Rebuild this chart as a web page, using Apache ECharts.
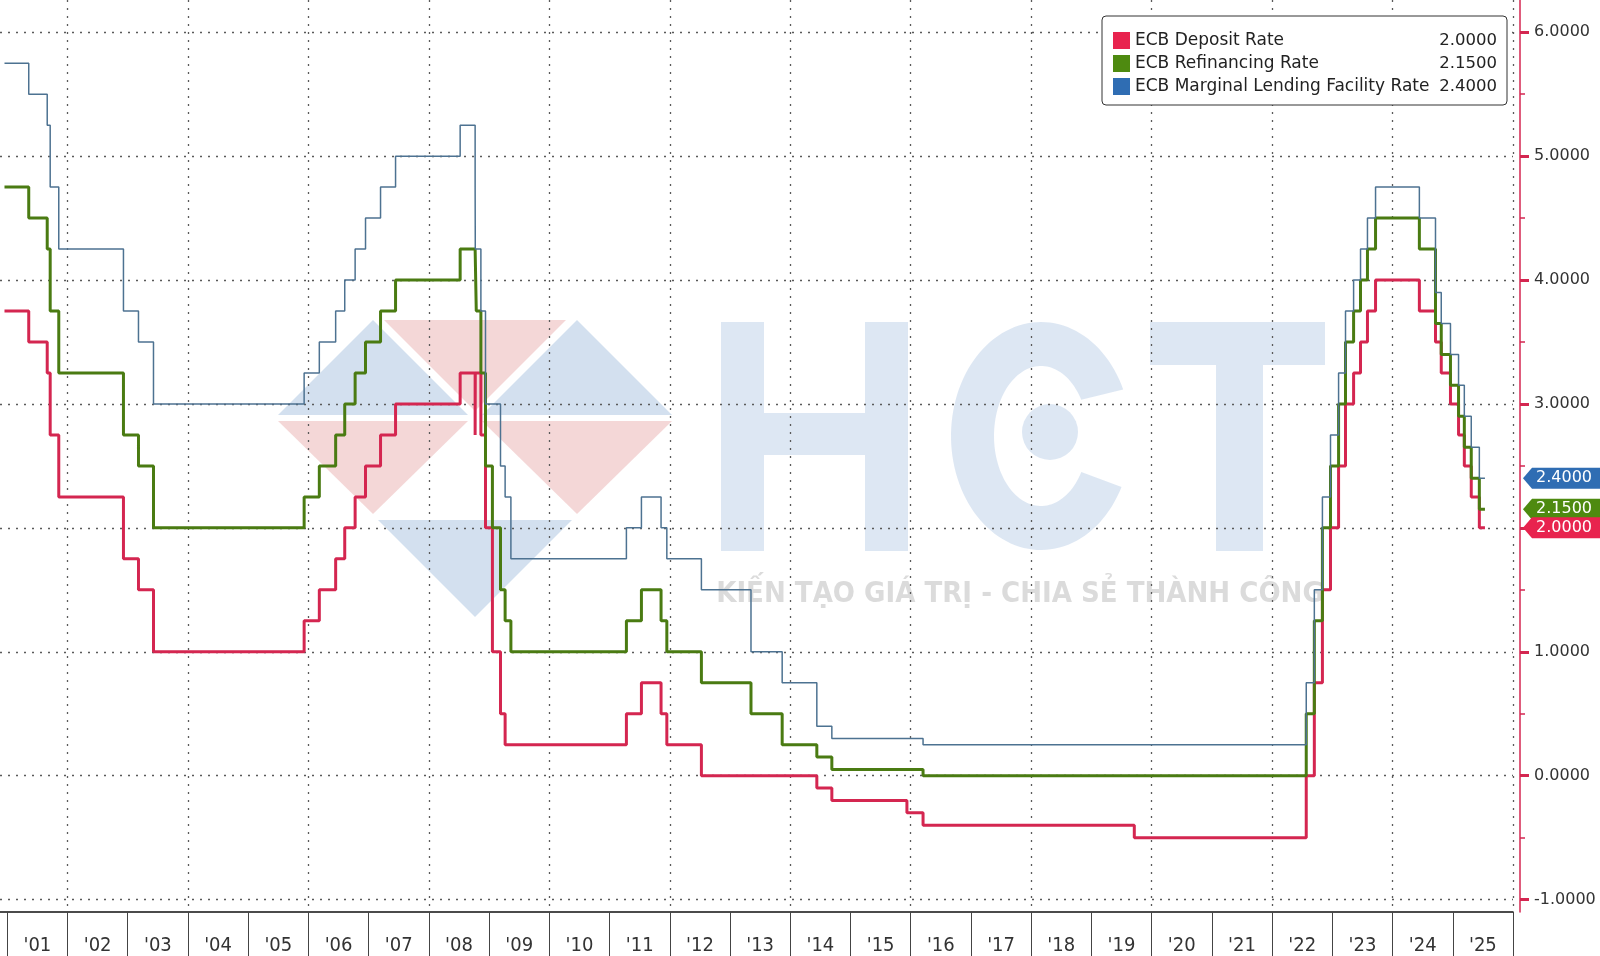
<!DOCTYPE html>
<html>
<head>
<meta charset="utf-8">
<title>ECB policy rates</title>
<script src="https://cdn.jsdelivr.net/npm/echarts@6/dist/echarts.min.js"></script>
<style>
    html, body { margin: 0; padding: 0; background: #fff; }
    #chart { width: 1600px; height: 956px; }
</style>
</head>
<body>
<div id="chart"></div>
<script>
// dates on which the rates changed; each value holds until the next date
const changeDates = [
    '2000-12-15', '2001-05-11', '2001-08-31', '2001-09-18', '2001-11-09', '2002-12-06',
    '2003-03-07', '2003-06-06', '2005-12-06', '2006-03-08', '2006-06-15', '2006-08-09',
    '2006-10-11', '2006-12-13', '2007-03-14', '2007-06-13', '2008-07-09', '2008-10-08',
    '2008-10-09', '2008-10-15', '2008-11-12', '2008-12-10', '2009-01-21', '2009-03-11',
    '2009-04-08', '2009-05-13', '2011-04-13', '2011-07-13', '2011-11-09', '2011-12-14',
    '2012-07-11', '2013-05-08', '2013-11-13', '2014-06-11', '2014-09-10', '2015-12-09',
    '2016-03-16', '2019-09-18', '2022-07-27', '2022-09-14', '2022-11-02', '2022-12-21',
    '2023-02-08', '2023-03-22', '2023-05-10', '2023-06-21', '2023-08-02', '2023-09-20',
    '2024-06-12', '2024-09-18', '2024-10-23', '2024-12-18', '2025-02-05', '2025-03-12',
    '2025-04-23', '2025-06-11', '2025-07-15'
];
const depositRate = [
    3.75, 3.50, 3.25, 2.75, 2.25, 1.75,
    1.50, 1.00, 1.25, 1.50, 1.75, 2.00,
    2.25, 2.50, 2.75, 3.00, 3.25, 2.75,
    3.25, 3.25, 2.75, 2.00, 1.00, 0.50,
    0.25, 0.25, 0.50, 0.75, 0.50, 0.25,
    0.00, 0.00, 0.00, -0.10, -0.20, -0.30,
    -0.40, -0.50, 0.00, 0.75, 1.50, 2.00,
    2.50, 3.00, 3.25, 3.50, 3.75, 4.00,
    3.75, 3.50, 3.25, 3.00, 2.75, 2.50,
    2.25, 2.00, 2.00
];
const refiRate = [
    4.75, 4.50, 4.25, 3.75, 3.25, 2.75,
    2.50, 2.00, 2.25, 2.50, 2.75, 3.00,
    3.25, 3.50, 3.75, 4.00, 4.25, 4.25,
    4.25, 3.75, 3.25, 2.50, 2.00, 1.50,
    1.25, 1.00, 1.25, 1.50, 1.25, 1.00,
    0.75, 0.50, 0.25, 0.15, 0.05, 0.05,
    0.00, 0.00, 0.50, 1.25, 2.00, 2.50,
    3.00, 3.50, 3.75, 4.00, 4.25, 4.50,
    4.25, 3.65, 3.40, 3.15, 2.90, 2.65,
    2.40, 2.15, 2.15
];
const lendingRate = [
    5.75, 5.50, 5.25, 4.75, 4.25, 3.75,
    3.50, 3.00, 3.25, 3.50, 3.75, 4.00,
    4.25, 4.50, 4.75, 5.00, 5.25, 4.75,
    4.25, 4.25, 3.75, 3.00, 3.00, 2.50,
    2.25, 1.75, 2.00, 2.25, 2.00, 1.75,
    1.50, 1.00, 0.75, 0.40, 0.30, 0.30,
    0.25, 0.25, 0.75, 1.50, 2.25, 2.75,
    3.25, 3.75, 4.00, 4.25, 4.50, 4.75,
    4.50, 3.90, 3.65, 3.40, 3.15, 2.90,
    2.65, 2.40, 2.40
];

const seriesNames = ['ECB Deposit Rate', 'ECB Refinancing Rate', 'ECB Marginal Lending Facility Rate'];
const yearBounds = [2001, 2002, 2003, 2004, 2005, 2006, 2007, 2008, 2009, 2010, 2011, 2012, 2013,
    2014, 2015, 2016, 2017, 2018, 2019, 2020, 2021, 2022, 2023, 2024, 2025, 2026];
const gridYears = [2002, 2004, 2006, 2008, 2010, 2012, 2014, 2016, 2018, 2020, 2022, 2024, 2026];
const yearLabels = ["'01", "'02", "'03", "'04", "'05", "'06", "'07", "'08", "'09", "'10", "'11", "'12", "'13",
    "'14", "'15", "'16", "'17", "'18", "'19", "'20", "'21", "'22", "'23", "'24", "'25"];
const rateTicks = [-1, 0, 1, 2, 3, 4, 5, 6];
const rateMinorTicks = [-0.5, 0.5, 1.5, 2.5, 3.5, 4.5, 5.5];

const X_MIN = 2000.879;
const X_MAX = 2026;

// date string -> decimal year
function toYear(s) {
    const d = new Date(s + 'T00:00:00Z');
    const y = d.getUTCFullYear();
    const a = Date.UTC(y, 0, 1);
    const b = Date.UTC(y + 1, 0, 1);
    return y + (d.getTime() - a) / (b - a);
}
function pairs(values) {
    return changeDates.map((d, i) => [toYear(d), values[i]]);
}
const lastOf = (arr) => arr[arr.length - 1];

const lineColors = ['#d42650', '#4a7b12', '#4d7291'];
const tagColors = ['#e8234e', '#4e8a10', '#2f6db3'];
const allRates = [depositRate, refiRate, lendingRate];

const dotted = { color: '#5a5a5a', width: 1.3, type: [2, 6] };

// watermark (HCT logo)
function cPoints(cx, cy) {
    const pts = [];
    const open = 0.42;
    for (let a = open; a <= Math.PI * 2 - open + 1e-6; a += 0.05) {
        pts.push([cx + 90 * Math.cos(a), cy - 114 * Math.sin(a)]);
    }
    for (let a = Math.PI * 2 - open - 0.12; a >= open + 0.12 - 1e-6; a -= 0.05) {
        pts.push([cx + 47 * Math.cos(a), cy - 70 * Math.sin(a)]);
    }
    return pts;
}
const wmBlue = 'rgba(150,182,216,0.42)';
const wmRed = 'rgba(226,150,150,0.38)';
const wmLetter = 'rgba(165,193,224,0.38)';
const watermark = [
    { type: 'polygon', shape: { points: [[373, 320], [278, 415], [468, 415]] }, style: { fill: wmBlue } },
    { type: 'polygon', shape: { points: [[384, 320], [566, 320], [475, 411]] }, style: { fill: wmRed } },
    { type: 'polygon', shape: { points: [[577, 320], [482, 415], [672, 415]] }, style: { fill: wmBlue } },
    { type: 'polygon', shape: { points: [[278, 421], [468, 421], [373, 514]] }, style: { fill: wmRed } },
    { type: 'polygon', shape: { points: [[482, 421], [672, 421], [577, 514]] }, style: { fill: wmRed } },
    { type: 'polygon', shape: { points: [[378, 520], [572, 520], [475, 617]] }, style: { fill: wmBlue } },
    { type: 'rect', shape: { x: 721, y: 322, width: 43, height: 229 }, style: { fill: wmLetter } },
    { type: 'rect', shape: { x: 865, y: 322, width: 43, height: 229 }, style: { fill: wmLetter } },
    { type: 'rect', shape: { x: 764, y: 413, width: 101, height: 42 }, style: { fill: wmLetter } },
    { type: 'polygon', shape: { points: cPoints(1041, 436) }, style: { fill: wmLetter } },
    { type: 'circle', shape: { cx: 1050, cy: 432, r: 28 }, style: { fill: wmLetter } },
    { type: 'rect', shape: { x: 1150, y: 322, width: 175, height: 43 }, style: { fill: wmLetter } },
    { type: 'rect', shape: { x: 1216, y: 365, width: 47, height: 186 }, style: { fill: wmLetter } },
    {
        type: 'text', x: 1020, y: 594,
        style: {
            text: 'KIẾN TẠO GIÁ TRỊ - CHIA SẺ THÀNH CÔNG',
            fill: 'rgba(175,175,175,0.45)',
            font: 'bold 29px "Liberation Sans Narrow", "DejaVu Sans Condensed", sans-serif',
            align: 'center', verticalAlign: 'middle'
        }
    }
].map(el => Object.assign(el, { z: -10, silent: true }));

const chart = echarts.init(document.getElementById('chart'));
chart.setOption({
    animation: false,
    backgroundColor: '#fff',
    graphic: { elements: watermark },
    grid: { left: 0, right: 87, top: 0, bottom: 44, containLabel: false, outerBoundsMode: 'none' },
    legend: {
        orient: 'vertical',
        right: 93,
        top: 16,
        padding: [16, 10, 10, 11],
        itemGap: 6,
        itemWidth: 17,
        itemHeight: 17,
        icon: 'rect',
        backgroundColor: '#fff',
        borderColor: '#333',
        borderWidth: 1,
        borderRadius: 4,
        data: seriesNames.map((n, i) => ({ name: n, itemStyle: { color: tagColors[i] } })),
        formatter: (name) => {
            const i = seriesNames.indexOf(name);
            return '{n|' + name + '}{v|' + lastOf(allRates[i]).toFixed(4) + '}';
        },
        textStyle: {
            color: '#222',
            fontFamily: 'DejaVu Sans',
            fontSize: 17,
            rich: {
                n: { width: 305, fontSize: 17, fontFamily: 'DejaVu Sans', color: '#222', lineHeight: 20 },
                v: { width: 57, align: 'right', fontSize: 16.5, fontFamily: 'DejaVu Sans', color: '#222', lineHeight: 20 }
            }
        }
    },
    xAxis: [
        {
            type: 'value',
            min: X_MIN,
            max: X_MAX,
            position: 'bottom',
            axisLine: { show: true, onZero: false, lineStyle: { color: '#111', width: 1.5 } },
            axisTick: {
                show: true,
                customValues: yearBounds,
                length: 46,
                lineStyle: { color: '#444', width: 1 }
            },
            axisLabel: {
                customValues: yearBounds.slice(0, -1).map(y => y + 0.5),
                formatter: (v) => yearLabels[Math.floor(v) - 2001],
                margin: 24,
                color: '#333',
                fontSize: 20,
                fontFamily: '"Liberation Sans Narrow", "DejaVu Sans Condensed", sans-serif'
            },
            splitLine: { show: false }
        },
        {
            type: 'value',
            min: X_MIN,
            max: X_MAX,
            position: 'top',
            axisLine: { show: false, onZero: false },
            axisTick: { show: false, customValues: gridYears },
            axisLabel: { show: false, customValues: gridYears },
            splitLine: { show: true, lineStyle: dotted }
        }
    ],
    yAxis: [
        {
            type: 'value',
            position: 'right',
            offset: 7,
            min: -1.1,
            max: 6.26,
            axisLine: { show: true, onZero: false, lineStyle: { color: '#d42650', width: 1.5 } },
            axisTick: {
                show: true,
                inside: false,
                customValues: rateTicks,
                length: 9,
                lineStyle: { color: '#d42650', width: 3 }
            },
            axisLabel: {
                customValues: rateTicks,
                formatter: (v) => v.toFixed(4),
                margin: 14,
                color: '#333',
                fontSize: 16,
                fontFamily: 'DejaVu Sans'
            },
            splitLine: { show: true, lineStyle: dotted }
        },
        {
            type: 'value',
            position: 'right',
            offset: 7,
            min: -1.1,
            max: 6.26,
            axisLine: { show: false, onZero: false },
            axisTick: {
                show: true,
                customValues: rateMinorTicks,
                length: 5,
                lineStyle: { color: '#d42650', width: 1.5 }
            },
            axisLabel: { show: false, customValues: rateMinorTicks },
            splitLine: { show: false }
        }
    ],
    series: seriesNames.map((name, i) => ({
        name: name,
        type: 'line',
        step: 'end',
        showSymbol: false,
        symbol: 'none',
        xAxisIndex: 0,
        yAxisIndex: 0,
        z: i === 2 ? 4 : 3,
        color: lineColors[i],
        lineStyle: { color: lineColors[i], width: i === 2 ? 1.5 : 3 },
        data: pairs(allRates[i]),
        markPoint: {
            z: i === 0 ? 9 : 7 + (2 - i) * 0.5,
            symbol: 'path://M0,10.5L9,0L80,0L80,21L9,21Z',
            symbolSize: [80, 21],
            symbolKeepAspect: false,
            symbolOffset: [50, 0],
            itemStyle: { color: tagColors[i] },
            label: {
                show: true,
                position: 'inside',
                offset: [1, 0],
                color: '#fff',
                fontSize: 16,
                fontFamily: 'DejaVu Sans',
                formatter: (p) => p.value.toFixed(4)
            },
            data: [{ coord: [X_MAX, lastOf(allRates[i])], value: lastOf(allRates[i]) }]
        }
    }))
});
</script>
</body>
</html>
